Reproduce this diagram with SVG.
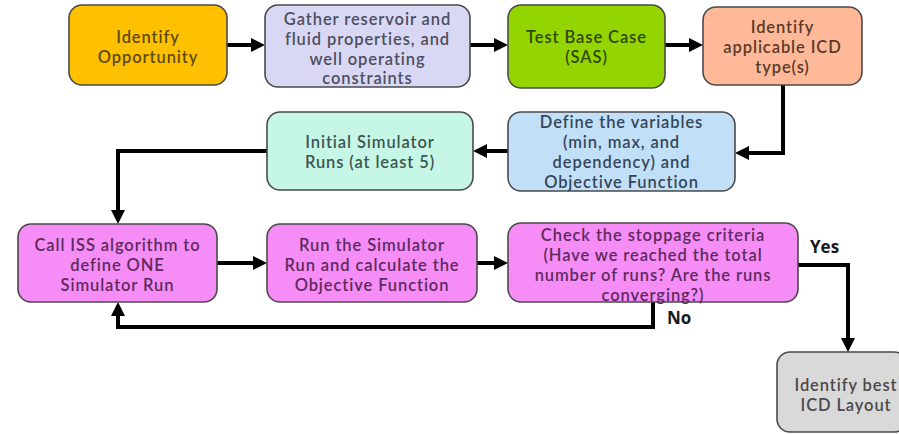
<svg xmlns="http://www.w3.org/2000/svg" width="899" height="434" viewBox="0 0 899 434">
<defs>
<style>
.box{stroke:#4a4a4a;stroke-width:1.6}
.t{font-family:Lato,"Open Sans","DejaVu Sans",sans-serif;font-size:16.5px;font-weight:600;letter-spacing:0.9px;text-anchor:middle}
.lbl{font-family:"Open Sans","DejaVu Sans",sans-serif;font-size:17px;font-weight:bold;fill:#1a1a1a}
.c{fill:none;stroke:#000;stroke-width:4;marker-end:url(#ah)}
</style>
<marker id="ah" markerUnits="userSpaceOnUse" markerWidth="14" markerHeight="14" viewBox="0 0 14 14" refX="2" refY="7" orient="auto">
<path d="M0,0 L14,7 L0,14 z" fill="#000"/>
</marker>
</defs>
<rect width="899" height="434" fill="#fff"/>
<g id="connectors">
<path class="c" d="M227,45 H253"/>
<path class="c" d="M470,45 H496"/>
<path class="c" d="M665,45 H691"/>
<path class="c" d="M783,85 V153 H747"/>
<path class="c" d="M508,151 H485"/>
<path class="c" d="M267,151 H118 V212"/>
<path class="c" d="M217,263 H255"/>
<path class="c" d="M477,263 H496"/>
<path class="c" d="M653,302 V327 H118 V314"/>
<path class="c" d="M798,265 H848 V340"/>
<text class="lbl" x="810" y="253">Yes</text>
<text class="lbl" x="667" y="324">No</text>
</g>
<g id="n1">
<rect class="box" x="69" y="5" width="158" height="80" rx="13" fill="#FFC000"/>
<text class="t" fill="#5e4a10"><tspan x="148" y="43">Identify</tspan><tspan x="148" y="63">Opportunity</tspan></text>
</g>
<g id="n2">
<rect class="box" x="265" y="5" width="205" height="82" rx="13" fill="#D8D8F4"/>
<text class="t" fill="#4e4e60"><tspan x="367.5" y="25">Gather reservoir and</tspan><tspan x="367.5" y="45">fluid properties, and</tspan><tspan x="367.5" y="64.5">well operating</tspan><tspan x="367.5" y="84">constraints</tspan></text>
</g>
<g id="n3">
<rect class="box" x="508" y="5" width="157" height="83" rx="13" fill="#94D400"/>
<text class="t" fill="#2d4a00"><tspan x="586.5" y="43">Test Base Case</tspan><tspan x="586.5" y="63">(SAS)</tspan></text>
</g>
<g id="n4">
<rect class="box" x="703" y="7" width="159" height="78" rx="13" fill="#FFB998"/>
<text class="t" fill="#5a3a2c"><tspan x="782.5" y="33">Identify</tspan><tspan x="782.5" y="53">applicable ICD</tspan><tspan x="782.5" y="73">type(s)</tspan></text>
</g>
<g id="n5">
<rect class="box" x="508" y="112" width="227" height="79" rx="13" fill="#C2DFF8"/>
<text class="t" fill="#34465a"><tspan x="621.5" y="128">Define the variables</tspan><tspan x="621.5" y="148">(min, max, and</tspan><tspan x="621.5" y="168">dependency) and</tspan><tspan x="621.5" y="188">Objective Function</tspan></text>
</g>
<g id="n6">
<rect class="box" x="267" y="112" width="206" height="78" rx="13" fill="#C6F7E6"/>
<text class="t" fill="#3c5650"><tspan x="370" y="148">Initial Simulator</tspan><tspan x="370" y="168">Runs (at least 5)</tspan></text>
</g>
<g id="n7">
<rect class="box" x="18" y="224" width="199" height="78" rx="13" fill="#F68CF6"/>
<text class="t" fill="#5e2a5e"><tspan x="117.5" y="251">Call ISS algorithm to</tspan><tspan x="117.5" y="271">define ONE</tspan><tspan x="117.5" y="291">Simulator Run</tspan></text>
</g>
<g id="n8">
<rect class="box" x="267" y="224" width="210" height="78" rx="13" fill="#F68CF6"/>
<text class="t" fill="#5e2a5e"><tspan x="372" y="251">Run the Simulator</tspan><tspan x="372" y="271">Run and calculate the</tspan><tspan x="372" y="291">Objective Function</tspan></text>
</g>
<g id="n9">
<rect class="box" x="508" y="223" width="290" height="79" rx="13" fill="#F68CF6"/>
<text class="t" fill="#5e2a5e"><tspan x="653" y="241">Check the stoppage criteria</tspan><tspan x="653" y="261">(Have we reached the total</tspan><tspan x="653" y="281">number of runs? Are the runs</tspan><tspan x="653" y="301">converging?)</tspan></text>
</g>
<g id="n10">
<rect class="box" x="777" y="352" width="130" height="80" rx="13" fill="#D9D9D9"/>
<text class="t" fill="#4a4a4a"><tspan x="846" y="391">Identify best</tspan><tspan x="846" y="411">ICD Layout</tspan></text>
</g>
</svg>
